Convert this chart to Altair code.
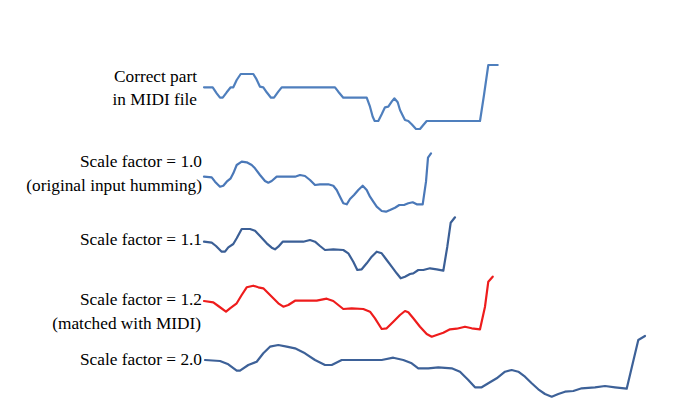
import altair as alt
import pandas as pd

# ---- series (horizontal position, vertical position) ----
midi_x = [204, 212.7, 216.7, 220, 222.7, 226.7, 230.7, 233.3, 236.7, 240.7, 253.3, 256, 260, 263.3, 266.7, 271, 274, 278.3, 281.7, 335, 338.3, 343.3, 366.7, 370, 372.7, 374.7, 378.3, 381.7, 385, 388.3, 391.7, 394.3, 397.7, 400, 403.3, 405, 408.3, 411.7, 416, 420, 423.3, 426.7, 480, 484, 488.3, 497.7]
midi_y = [87.3, 87.3, 93.3, 97.7, 97.7, 92.3, 87.3, 87.3, 80, 74, 74, 78.3, 86.7, 87.3, 92.3, 97.7, 97.7, 91.7, 87.3, 87.3, 91.7, 97.7, 97.7, 106.7, 116.7, 121, 121, 114.3, 107.3, 106.7, 101.7, 98.3, 102.3, 110, 116.7, 120, 121, 124.3, 129, 129, 125, 121, 121, 95, 65, 65]

s10_x = [204, 211.7, 215, 220, 223.3, 226.7, 230.7, 233.3, 236.7, 241.7, 246.7, 251.7, 255, 260, 265, 268.3, 271.7, 276.7, 295, 300, 305, 310, 315, 320, 328.3, 333.3, 336.7, 340, 343.3, 346.7, 350, 354, 358.3, 362.7, 366.7, 370, 373.3, 376.7, 381.7, 386, 390, 395, 399.3, 404, 408.3, 412.7, 416.7, 422.7, 426, 428, 431]
s10_y = [176.7, 177.3, 181.7, 186.7, 185.7, 181.7, 178.3, 173.3, 165, 161.7, 162.3, 165, 168.3, 175, 181, 182.7, 181, 176.7, 176.7, 175, 176, 180, 185, 184.3, 184.3, 185.7, 190, 196.7, 203.3, 204.3, 199, 195, 190, 185.7, 190, 196.7, 201.7, 206.7, 211, 211.7, 210, 207.7, 205, 205, 203.3, 202.3, 204.3, 204.3, 181.7, 157.7, 153.3]

s11_x = [204, 211.7, 216, 221.7, 225, 228.3, 233.3, 236.7, 241.7, 250, 255, 260, 266.7, 271.7, 275, 278.3, 282.7, 303.3, 310, 315, 320, 325, 333.3, 343.3, 348.3, 353.3, 357.3, 361.7, 366.7, 371.7, 376.7, 381.7, 386.7, 391.7, 396.7, 400.7, 405, 410, 413.3, 418.3, 423.3, 430, 436.7, 443.3, 447.3, 450.7, 455]
s11_y = [241.7, 242.7, 246, 251.7, 251.7, 247.3, 244, 238.3, 229, 229, 230.7, 236, 243.3, 247.7, 249.3, 246.7, 241.7, 241.7, 240, 241.7, 246, 250, 249.3, 250, 253.3, 261.7, 270, 269.3, 263.3, 256.7, 251.7, 253.3, 260, 266.7, 273.3, 278.3, 276.7, 274, 273.3, 270, 270, 268.3, 269.3, 270.7, 246.7, 222.7, 217.3]

s12_x = [204, 213.3, 218.3, 226, 230, 236.7, 241.7, 246.7, 253.3, 258.3, 263.3, 268.3, 273.3, 278.3, 283.3, 288.3, 295, 316.7, 326.7, 333.3, 338.3, 343.3, 351.7, 363.3, 370, 375, 381.7, 386.7, 393.3, 400, 405, 408.3, 413.3, 420, 426.7, 431.7, 436.7, 443.3, 450, 456.7, 465, 471.7, 480, 485, 488.3, 492.7]
s12_y = [301, 302.3, 306, 311.7, 308.3, 303.3, 295, 287.3, 285.7, 287.3, 288.3, 293.3, 298.3, 303.3, 306.7, 305, 300.7, 300.7, 298.7, 301, 305, 309, 308.3, 309, 311.7, 318.3, 329, 328.3, 321.7, 315, 311, 312.3, 318.3, 326.7, 334, 336.7, 335, 332.7, 329.3, 328.7, 326.7, 328.3, 329.3, 306.7, 281.7, 276.7]

s20_x = [205, 220, 228.3, 236.7, 240, 248.3, 256.7, 263.3, 270, 278.3, 286.7, 295, 305, 315, 325, 331.7, 341.7, 381.7, 393.3, 403.3, 411.7, 418.3, 428.3, 438.3, 451.7, 460, 468.3, 475, 481.7, 488.3, 496.7, 505, 511.7, 518.3, 525, 531.7, 538.3, 545, 551.7, 558.3, 565, 573.3, 581.7, 595, 605, 615, 626.7, 634.3, 638.3, 645]
s20_y = [360, 361, 364.3, 370.7, 370.7, 365, 361.7, 353.3, 346.7, 345, 346.7, 348.3, 353.3, 360, 365, 365, 360, 360, 357.7, 360, 363.3, 368.3, 368.3, 367.3, 368.3, 371.7, 380, 387.3, 387.3, 383.3, 378.3, 371.7, 370, 371.7, 376.7, 383.3, 389.3, 394, 396.7, 394, 391.7, 391, 388.3, 387.3, 386, 387.3, 388.7, 356.7, 340, 336]

series_names = ["midi", "s10", "s11", "s12", "s20"]
series_colors = ["#4f7fbd", "#4a78b8", "#3b5f96", "#ee1c1c", "#3d6198"]

# ---- labels ----
label_text = ["Correct part", "in MIDI file", "Scale factor = 1.0", "(original input humming)",
              "Scale factor = 1.1", "Scale factor = 1.2", "(matched with MIDI)", "Scale factor = 2.0"]
label_x = [197, 197, 202, 202, 202, 202, 201, 202]
label_y = [76.5, 100, 161.5, 186, 240, 300, 323.5, 360]

rows = []
for name, xs, ys in zip(series_names, [midi_x, s10_x, s11_x, s12_x, s20_x],
                        [midi_y, s10_y, s11_y, s12_y, s20_y]):
    for i, (x, y) in enumerate(zip(xs, ys)):
        rows.append({"series": name, "x": x, "y": y, "i": i})
lines_df = pd.DataFrame(rows)
labels_df = pd.DataFrame({"text": label_text, "x": label_x, "y": label_y})

xs = alt.Scale(domain=[8, 677], nice=False, zero=False)
ys = alt.Scale(domain=[8, 403], nice=False, zero=False, reverse=True)

lines = alt.Chart(lines_df).mark_line(strokeWidth=2.2, strokeCap="round", strokeJoin="round").encode(
    x=alt.X("x:Q", scale=xs, axis=None),
    y=alt.Y("y:Q", scale=ys, axis=None),
    color=alt.Color("series:N", scale=alt.Scale(domain=series_names, range=series_colors), legend=None),
    order="i:Q",
)

labels = alt.Chart(labels_df).mark_text(
    align="right", baseline="middle", font="Liberation Serif", fontSize=17.3, color="#000000"
).encode(
    x=alt.X("x:Q", scale=xs, axis=None),
    y=alt.Y("y:Q", scale=ys, axis=None),
    text="text:N",
)

chart = alt.layer(lines, labels).properties(
    width=669, height=395, padding=0,
    autosize=alt.AutoSizeParams(type="fit", contains="padding"),
    background="white",
).configure_view(stroke=None)

chart.save("out.html", embed_options={"renderer": "svg", "actions": False})
